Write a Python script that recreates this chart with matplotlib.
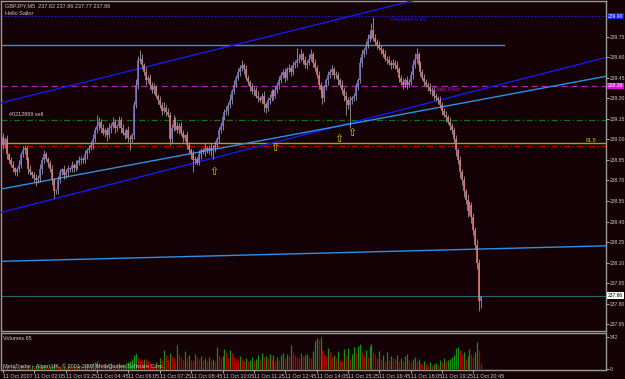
import matplotlib
matplotlib.use("Agg")
import matplotlib.pyplot as plt
import matplotlib.transforms as mtransforms
from matplotlib import font_manager
import numpy as np

# ----------------------------------------
# data (GBPJPY M5, 11 Oct 2007)
# ----------------------------------------
first_open = 239.02
closes = [
    238.96, 239.00, 238.89, 238.85, 238.81, 238.79, 238.76, 238.78, 238.81, 238.89,
    238.92, 238.94, 238.85, 238.78, 238.76, 238.74, 238.72, 238.70, 238.72, 238.78,
    238.85, 238.89, 238.86, 238.83, 238.78, 238.70, 238.62, 238.63, 238.70, 238.76,
    238.78, 238.74, 238.76, 238.79, 238.78, 238.81, 238.79, 238.81, 238.83, 238.85,
    238.86, 238.85, 238.89, 238.92, 238.94, 238.96, 239.00, 239.07, 239.10, 239.13,
    239.08, 239.05, 239.07, 239.03, 239.08, 239.10, 239.13, 239.08, 239.10, 239.14,
    239.08, 239.05, 239.03, 239.07, 239.01, 239.00, 239.03, 239.25, 239.40, 239.58,
    239.59, 239.54, 239.49, 239.43, 239.45, 239.40, 239.36, 239.38, 239.32, 239.29,
    239.25, 239.21, 239.23, 239.20, 239.18, 239.00, 239.08, 239.14, 239.10, 239.07,
    239.10, 239.05, 239.01, 239.03, 238.96, 238.92, 238.89, 238.85, 238.86, 238.83,
    238.89, 238.92, 238.91, 238.94, 238.92, 238.94, 238.92, 238.94, 238.96, 239.00,
    239.07, 239.10, 239.16, 239.20, 239.21, 239.25, 239.29, 239.35, 239.40, 239.45,
    239.49, 239.52, 239.54, 239.51, 239.45, 239.42, 239.38, 239.35, 239.36, 239.32,
    239.30, 239.29, 239.32, 239.26, 239.23, 239.29, 239.30, 239.35, 239.32, 239.36,
    239.40, 239.43, 239.47, 239.49, 239.45, 239.51, 239.52, 239.49, 239.54, 239.56,
    239.58, 239.59, 239.62, 239.58, 239.54, 239.56, 239.59, 239.62, 239.56, 239.52,
    239.47, 239.40, 239.36, 239.30, 239.38, 239.43, 239.47, 239.49, 239.51, 239.47,
    239.47, 239.43, 239.40, 239.36, 239.32, 239.29, 239.25, 239.29, 239.30, 239.32,
    239.38, 239.43, 239.56, 239.62, 239.65, 239.69, 239.73, 239.76, 239.80, 239.74,
    239.71, 239.69, 239.67, 239.65, 239.62, 239.59, 239.58, 239.56, 239.54, 239.56,
    239.54, 239.51, 239.45, 239.42, 239.40, 239.43, 239.40, 239.42, 239.47, 239.54,
    239.59, 239.62, 239.54, 239.49, 239.45, 239.42, 239.40, 239.38, 239.35, 239.36,
    239.32, 239.30, 239.29, 239.25, 239.21, 239.18, 239.16, 239.13, 239.10, 239.07,
    239.00, 238.92, 238.85, 238.76, 238.70, 238.62, 238.56, 238.48, 238.52, 238.43,
    238.34, 238.23, 238.10, 237.82, 237.86,
]

# wick lengths in pips (0.01)
upper_wick = [
    3, 2, 3, 1, 2, 3, 1, 2, 4, 2,
    3, 2, 1, 2, 3, 1, 2, 3, 2, 4,
    2, 3, 2, 1, 2, 3, 2, 1, 3, 2,
    1, 3, 2, 2, 1, 3, 2, 4, 2, 3,
    2, 1, 3, 2, 2, 3, 4, 2, 8, 3,
    2, 3, 1, 2, 4, 2, 3, 2, 1, 3,
    2, 3, 2, 1, 3, 2, 2, 3, 4, 3,
    6, 3, 2, 4, 2, 3, 2, 3, 2, 1,
    3, 2, 4, 2, 3, 2, 3, 4, 2, 3,
    2, 3, 2, 1, 3, 2, 2, 3, 2, 1,
    3, 2, 2, 3, 1, 2, 3, 2, 3, 2,
    2, 3, 2, 2, 3, 2, 4, 2, 3, 2,
    3, 2, 4, 2, 3, 2, 1, 3, 2, 2,
    3, 2, 2, 3, 1, 2, 3, 2, 2, 3,
    2, 3, 2, 2, 3, 2, 3, 2, 3, 2,
    9, 3, 4, 2, 3, 2, 3, 4, 2, 3,
    2, 3, 2, 3, 2, 2, 3, 2, 3, 2,
    3, 2, 2, 3, 2, 3, 2, 3, 2, 2,
    3, 2, 4, 3, 2, 3, 4, 3, 5, 9,
    3, 2, 3, 2, 2, 3, 2, 3, 2, 3,
    2, 3, 2, 2, 3, 2, 3, 2, 3, 4,
    4, 5, 2, 3, 2, 3, 2, 2, 3, 2,
    3, 2, 2, 3, 2, 2, 3, 2, 3, 2,
    2, 3, 2, 3, 2, 3, 2, 4, 3, 2,
    3, 2, 4, 3, 0,
]
lower_wick = [
    3, 2, 3, 2, 1, 3, 2, 3, 2, 2,
    2, 3, 2, 3, 2, 2, 3, 4, 2, 3,
    3, 2, 2, 3, 2, 3, 5, 2, 3, 2,
    2, 3, 2, 3, 2, 2, 3, 2, 3, 2,
    3, 2, 2, 3, 2, 2, 3, 2, 2, 3,
    3, 2, 3, 4, 2, 3, 2, 3, 2, 2,
    3, 2, 3, 2, 3, 8, 2, 3, 2, 3,
    2, 3, 2, 3, 2, 3, 2, 3, 2, 3,
    2, 3, 2, 3, 2, 4, 3, 2, 3, 2,
    3, 2, 3, 2, 3, 2, 3, 9, 3, 2,
    2, 3, 2, 3, 2, 3, 4, 6, 3, 2,
    3, 2, 3, 2, 2, 3, 2, 3, 2, 2,
    2, 3, 2, 3, 2, 2, 3, 2, 3, 2,
    3, 2, 3, 6, 4, 2, 3, 2, 3, 2,
    2, 3, 2, 2, 3, 2, 2, 3, 2, 2,
    3, 2, 2, 3, 2, 3, 2, 2, 3, 2,
    2, 3, 2, 4, 3, 2, 3, 2, 2, 3,
    2, 3, 2, 3, 4, 11, 3, 17, 3, 2,
    3, 2, 2, 3, 2, 3, 2, 2, 3, 2,
    2, 3, 2, 3, 2, 2, 3, 2, 3, 2,
    3, 2, 3, 2, 3, 2, 3, 2, 2, 3,
    2, 3, 2, 3, 2, 3, 2, 3, 2, 3,
    3, 2, 3, 2, 3, 2, 3, 2, 3, 3,
    3, 4, 3, 4, 3, 4, 3, 5, 3, 4,
    4, 3, 5, 7, 5,
]

volumes = [
    25, 18, 30, 22, 15, 28, 35, 20, 26, 40,
    32, 22, 18, 30, 25, 38, 20, 28, 35, 24,
    30, 42, 26, 20, 35, 45, 55, 38, 28, 33,
    25, 30, 22, 38, 28, 20, 34, 26, 30, 40,
    35, 28, 45, 52, 38, 48, 60, 75, 90, 65,
    55, 48, 60, 42, 50, 65, 58, 45, 52, 60,
    48, 55, 40, 62, 70, 85, 110, 150, 175, 130,
    100, 95, 110, 105, 90, 60, 45, 35, 70, 55,
    120, 95, 205, 150, 110, 170, 140, 120, 90, 260,
    160, 130, 100, 190, 120, 150, 100, 90, 160, 130,
    110, 140, 95, 120, 80, 130, 100, 110, 90, 230,
    150, 120, 140, 210, 180, 120, 200, 170, 130, 110,
    100, 140, 110, 90, 120, 80, 100, 130, 90, 110,
    150, 100, 170, 130, 140, 120, 160, 110, 150, 90,
    130, 100, 150, 170, 120, 160, 140, 260, 180, 150,
    130, 120, 170, 140, 150, 160, 130, 120, 190, 300,
    330, 320, 340, 200, 160, 140, 220, 180, 130, 150,
    120, 190, 100, 90, 210, 150, 220, 110, 160, 230,
    170, 250, 270, 180, 140, 200, 130, 250, 270, 180,
    160, 120, 190, 110, 150, 90, 180, 100, 140, 120,
    110, 150, 80, 120, 90, 140, 160, 100, 70, 110,
    130, 80, 110, 60, 40, 90, 50, 30, 70, 40,
    55, 60, 45, 100, 70, 120, 85, 95, 110, 130,
    150, 220, 240, 200, 160, 180, 110, 140, 210, 160,
    130, 180, 290, 200, 65,
]

time_labels = [
    "11 Oct 2007", "11 Oct 02:05", "11 Oct 03:25", "11 Oct 04:45",
    "11 Oct 06:05", "11 Oct 07:25", "11 Oct 08:45", "11 Oct 10:05",
    "11 Oct 11:25", "11 Oct 12:45", "11 Oct 14:05", "11 Oct 15:25",
    "11 Oct 16:45", "11 Oct 18:05", "11 Oct 19:25", "11 Oct 20:45",
]
label_every = 16
price_ticks = [237.65, 237.80, 237.95, 238.10, 238.25, 238.40, 238.55, 238.70,
               238.85, 239.00, 239.15, 239.30, 239.45, 239.60, 239.75]

# trend lines: (bar, price) anchor pairs
upper_channel = [(0, 239.27), (200, 239.98)]
lower_channel = [(0, 238.47), (300, 239.57)]
support_line = [(0, 238.64), (300, 239.44)]
flat_line = [(0, 238.11), (300, 238.22)]
top_segment = (255.6, 239.69)   # ends at this bar

resistance_r2 = 239.90
daily_pivot = 239.39
order_level = 239.14
fib_618 = 238.97
red_level = 238.95
bid_price = 237.86

arrow_bars = [107.7, 138.8, 171.4, 178.1]
arrow_prices = [238.76, 238.94, 239.00, 239.05]

# ----------------------------------------
# style
# ----------------------------------------
W, H = 625, 379
BG = "#150207"
FRAME = "#9a9a9a"
TXT = "#c8c8c8"
UP = "#7676d8"
DOWN = "#df7b7b"
WICK = "#a8a8a8"

installed = {f.name for f in font_manager.fontManager.ttflist}
SMALL = "Liberation Sans Narrow" if "Liberation Sans Narrow" in installed else "Liberation Sans"
plt.rcParams["font.family"] = [SMALL, "DejaVu Sans"]
LBL = 4.0    # tiny terminal font
AXL = 3.6    # right-hand price scale


def px_axes(fig, x0, y0, x1, y1):
    return fig.add_axes([x0 / W, 1 - y1 / H, (x1 - x0) / W, (y1 - y0) / H])


def style_axes(ax):
    ax.set_facecolor(BG)
    for s in ax.spines.values():
        s.set_color(FRAME)
        s.set_linewidth(1.0)


def draw_trend(ax, pts, color, xlim):
    (x0, p0), (x1, p1) = pts
    slope = (p1 - p0) / (x1 - x0)
    xs = np.array(xlim)
    ax.plot(xs, p0 + slope * (xs - x0), color=color, lw=1.0, zorder=3)


fig = plt.figure(figsize=(W / 100, H / 100), dpi=100)
fig.patch.set_facecolor(BG)

n = len(closes)
x = np.arange(n)
c = np.array(closes)
o = np.r_[first_open, c[:-1]]
hi = np.maximum(o, c) + np.array(upper_wick) / 100
lo = np.minimum(o, c) - np.array(lower_wick) / 100
XLIM = (-1.02, 307.65)

# ----------------------------------------
# price panel
# ----------------------------------------
ax = px_axes(fig, 1, 1, 606, 331)
style_axes(ax)
ax.set_xlim(*XLIM)
ax.set_ylim(237.601, 240.01)
ax.set_xticks([])
ax.yaxis.tick_right()
ax.set_yticks(price_ticks)
ax.set_yticklabels([f"{p:.2f}" for p in price_ticks])
ax.tick_params(axis="y", direction="out", length=2, width=0.6, colors=TXT,
               labelsize=AXL, pad=0.5)

# horizontal levels
ax.axhline(resistance_r2, color="#1a1ad0", lw=0.8, ls=(0, (1.5, 1.5)), zorder=2)
ax.axhline(daily_pivot, color="#b020b0", lw=0.9, ls=(0, (5, 3)), zorder=2)
ax.axhline(order_level, color="#127212", lw=0.9, ls=(0, (5, 2, 1, 2)), zorder=2)
ax.axhline(fib_618, color="#a8a800", lw=1.0, zorder=2)
ax.axhline(red_level, color="#c00000", lw=0.9, ls=(0, (5, 2, 1, 2)), zorder=2)
ax.axhline(bid_price, color="#2c6468", lw=0.8, zorder=2)
ax.plot([XLIM[0], top_segment[0]], [top_segment[1]] * 2, color="#3a8fd0", lw=1.0, zorder=2)

draw_trend(ax, upper_channel, "#1818f0", XLIM)
draw_trend(ax, lower_channel, "#1818f0", XLIM)
draw_trend(ax, support_line, "#2a90e8", XLIM)
draw_trend(ax, flat_line, "#2a90e8", XLIM)

# candles
up = c >= o
ax.vlines(x, lo, hi, color=WICK, lw=0.55, zorder=4)
body_lo = np.minimum(o, c)
body_hi = np.maximum(o, c)
body_hi = np.where(body_hi - body_lo < 0.005, body_lo + 0.005, body_hi)
ax.vlines(x[up], body_lo[up], body_hi[up], color=UP, lw=1.15, zorder=5)
ax.vlines(x[~up], body_lo[~up], body_hi[~up], color=DOWN, lw=1.15, zorder=5)

for b, p in zip(arrow_bars, arrow_prices):
    ax.text(b, p, "\u21e7", color="#e0c000", fontsize=8, ha="center", va="center",
            family=["DejaVu Sans"], zorder=6)

# level labels
ax.text(3, 239.16, "#0212869 sell", color=TXT, fontsize=LBL, va="bottom", zorder=6)
ax.text(303, fib_618 + 0.005, "61.8", color="#c8c800", fontsize=LBL, ha="right",
        va="bottom", zorder=6)
ax.text(220, daily_pivot - 0.01, "Daily Pivot", color="#b020b0", fontsize=LBL,
        va="top", zorder=6)
ax.text(198, resistance_r2 - 0.01, "Resistance R2", color="#1a1ad0", fontsize=LBL,
        va="top", zorder=6)

# header
ax.text(0.006, 0.993, "GBPJPY,M5  237.82 237.86 237.77 237.86", transform=ax.transAxes,
        color=TXT, fontsize=LBL, va="top")
ax.text(0.006, 0.970, "Hello Sailor", transform=ax.transAxes, color=TXT,
        fontsize=LBL, va="top")

# price boxes on the axis
tr = mtransforms.blended_transform_factory(ax.transAxes, ax.transData)
for price, fc, tc in [(resistance_r2, "#1a1ae0", "white"),
                      (daily_pivot, "#e010e0", "white"),
                      (bid_price, "white", "black")]:
    ax.text(1.003, price, f"{price:.2f}", transform=tr, ha="left", va="center",
            fontsize=AXL, color=tc, clip_on=False,
            bbox=dict(boxstyle="square,pad=0.12", fc=fc, ec="none"))

# ----------------------------------------
# volume panel
# ----------------------------------------
axv = px_axes(fig, 1, 333, 606, 370)
style_axes(axv)
axv.set_xlim(*XLIM)
axv.set_ylim(-11, 385)
v = np.array(volumes)
rising = np.r_[True, v[1:] > v[:-1]]
axv.vlines(x[rising], 0, v[rising], color="#129012", lw=0.9)
axv.vlines(x[~rising], 0, v[~rising], color="#b00000", lw=0.9)
axv.yaxis.tick_right()
axv.set_yticks([0, 342])
axv.set_yticklabels(["0", "342"])
axv.tick_params(axis="y", direction="out", length=2, width=0.6, colors=TXT,
                labelsize=AXL, pad=0.5)
axv.set_xticks(np.arange(len(time_labels)) * label_every)
axv.set_xticklabels(time_labels)
axv.tick_params(axis="x", direction="out", length=2, width=0.6, colors=TXT,
                labelsize=LBL, pad=0.8)
for lbl in axv.get_xticklabels():
    lbl.set_ha("left")

axv.text(0.004, 0.93, "Volumes 65", transform=axv.transAxes, color=TXT,
         fontsize=LBL, va="top")
axv.text(0.004, 0.04, "MetaTrader - Alpari UK, \u00a9 2001-2007 MetaQuotes Software Corp.",
         transform=axv.transAxes, color=TXT, fontsize=LBL, va="bottom")

fig.savefig("out.png", dpi=100, facecolor=BG)
